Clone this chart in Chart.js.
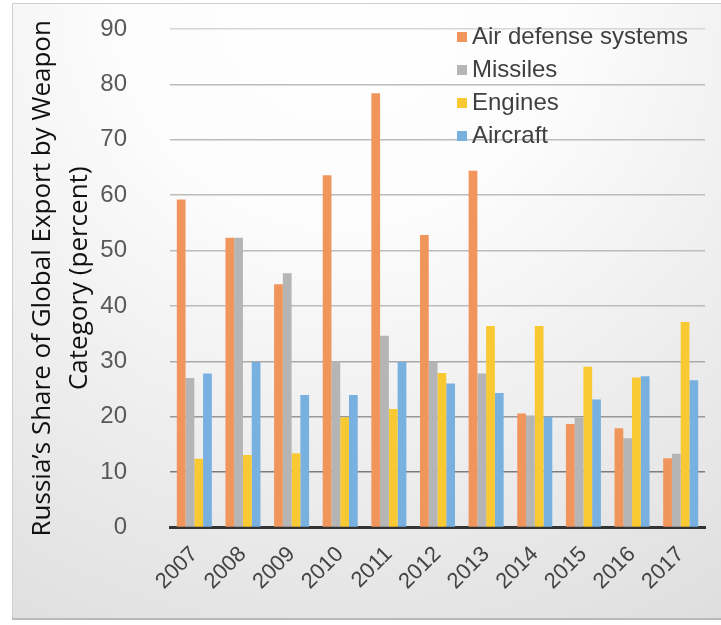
<!DOCTYPE html>
<html>
<head>
<meta charset="utf-8">
<script src="https://cdn.jsdelivr.net/npm/chart.js@4/dist/chart.umd.min.js"></script>
<style>
  html, body { margin: 0; padding: 0; background: #ffffff; overflow: hidden; }
  canvas { display: block; }
</style>
</head>
<body>
<canvas id="chart" width="721" height="625"></canvas>
<script>
// Russia's share of global exports by weapon category, 2007-2017 (percent)
const years = ['2007', '2008', '2009', '2010', '2011', '2012', '2013', '2014', '2015', '2016', '2017'];
const airDefense = [59.2, 52.3, 43.9, 63.6, 78.4, 52.8, 64.4, 20.6, 18.7, 17.9, 12.5];
const missiles   = [27.0, 52.3, 45.9, 30.0, 34.6, 29.9, 27.8, 20.2, 19.8, 16.1, 13.3];
const engines    = [12.4, 13.1, 13.4, 19.9, 21.4, 27.9, 36.4, 36.4, 29.0, 27.1, 37.1];
const aircraft   = [27.8, 29.9, 23.9, 23.9, 29.9, 26.0, 24.3, 20.0, 23.1, 27.3, 26.6];
const seriesNames = ['Air defense systems', 'Missiles', 'Engines', 'Aircraft'];
const seriesColors = ['#f0965c', '#b5b5b5', '#f9c933', '#78b0e0'];
const yMin = 0, yMax = 90, yStep = 10;
const yTitleLines = ['Russia\u2019s Share of Global Export by Weapon', 'Category (percent)'];

const SANS = '"Liberation Sans", Arial, sans-serif';

// Framed panel with a soft grey gradient behind the chart
const panelBackground = {
  id: 'panelBackground',
  beforeDraw(chart) {
    const { ctx, width, height } = chart;
    ctx.save();
    ctx.fillStyle = '#ffffff';
    ctx.fillRect(0, 0, width, height);
    const g = ctx.createRadialGradient(340, 0, 0, 340, 0, 760);
    g.addColorStop(0, '#ffffff');
    g.addColorStop(0.3, '#fcfcfc');
    g.addColorStop(0.6, '#eeeeee');
    g.addColorStop(1, '#dcdcdc');
    ctx.fillStyle = g;
    ctx.fillRect(12, 3, width - 12, 616);
    ctx.strokeStyle = '#cfcfcf';
    ctx.lineWidth = 1;
    ctx.beginPath();
    ctx.moveTo(width, 3.5);
    ctx.lineTo(12.5, 3.5);
    ctx.lineTo(12.5, 619);
    ctx.stroke();
    ctx.strokeStyle = '#b9b9b9';
    ctx.lineWidth = 2;
    ctx.beginPath();
    ctx.moveTo(12, 619);
    ctx.lineTo(width, 619);
    ctx.stroke();
    ctx.restore();
  }
};

// Two-line rotated title for the value axis
const valueTitle = {
  id: 'valueTitle',
  afterDraw(chart) {
    const { ctx, chartArea } = chart;
    const cy = (chartArea.top + chartArea.bottom) / 2;
    ctx.save();
    ctx.translate(43, cy);
    ctx.rotate(-Math.PI / 2);
    ctx.fillStyle = '#111111';
    ctx.font = '26px "Open Sans", sans-serif';
    ctx.textAlign = 'center';
    ctx.textBaseline = 'middle';
    yTitleLines.forEach((line, i) => ctx.fillText(line, 0, i * 37));
    ctx.restore();
  }
};

// Legend drawn inside the plot, top right
const insideLegend = {
  id: 'insideLegend',
  afterDatasetsDraw(chart) {
    const { ctx } = chart;
    ctx.save();
    ctx.font = '24px ' + SANS;
    ctx.textBaseline = 'middle';
    ctx.textAlign = 'left';
    chart.data.datasets.forEach((ds, i) => {
      const y = 37 + i * 33;
      ctx.fillStyle = ds.backgroundColor;
      ctx.fillRect(457, y - 5, 10, 10);
      ctx.fillStyle = '#404040';
      ctx.fillText(ds.label, 472, y);
    });
    ctx.restore();
  }
};

const gridColor = (ctx) => {
  const v = ctx.tick ? ctx.tick.value : null;
  if (v === 0) return 'rgba(0,0,0,0)';
  if (v === 10) return '#7c7c7c';
  if (v === 20) return '#979797';
  if (v === 30) return '#a9a9a9';
  if (v === 90) return '#d6d6d6';
  return '#bcbcbc';
};

new Chart(document.getElementById('chart'), {
  type: 'bar',
  data: {
    labels: years,
    datasets: [airDefense, missiles, engines, aircraft].map((values, i) => ({
      label: seriesNames[i],
      data: values,
      backgroundColor: seriesColors[i],
      borderWidth: 0,
      categoryPercentage: 0.72,
      barPercentage: 1.0
    }))
  },
  options: {
    responsive: false,
    animation: false,
    devicePixelRatio: 1,
    layout: { padding: { left: 0, right: 16, top: 29, bottom: 0 } },
    plugins: {
      legend: { display: false },
      tooltip: { enabled: false },
      title: { display: false }
    },
    scales: {
      x: {
        grid: { display: false, drawTicks: false },
        border: { display: true, color: '#333333', width: 3 },
        ticks: {
          color: '#444444',
          font: { family: SANS, size: 22 },
          minRotation: 45,
          maxRotation: 45,
          autoSkip: false,
          padding: 14
        },
        afterFit(scale) { scale.height = 97.5; }
      },
      y: {
        min: yMin,
        max: yMax,
        grid: { color: gridColor, lineWidth: 1.5, drawTicks: false },
        border: { display: false },
        ticks: {
          stepSize: yStep,
          color: '#595959',
          font: { family: SANS, size: 24 },
          padding: 43
        },
        afterFit(scale) {
          scale.width = 170;
          scale.paddingTop = 0;
          scale.paddingBottom = 0;
        }
      }
    }
  },
  plugins: [panelBackground, valueTitle, insideLegend]
});
</script>
</body>
</html>
